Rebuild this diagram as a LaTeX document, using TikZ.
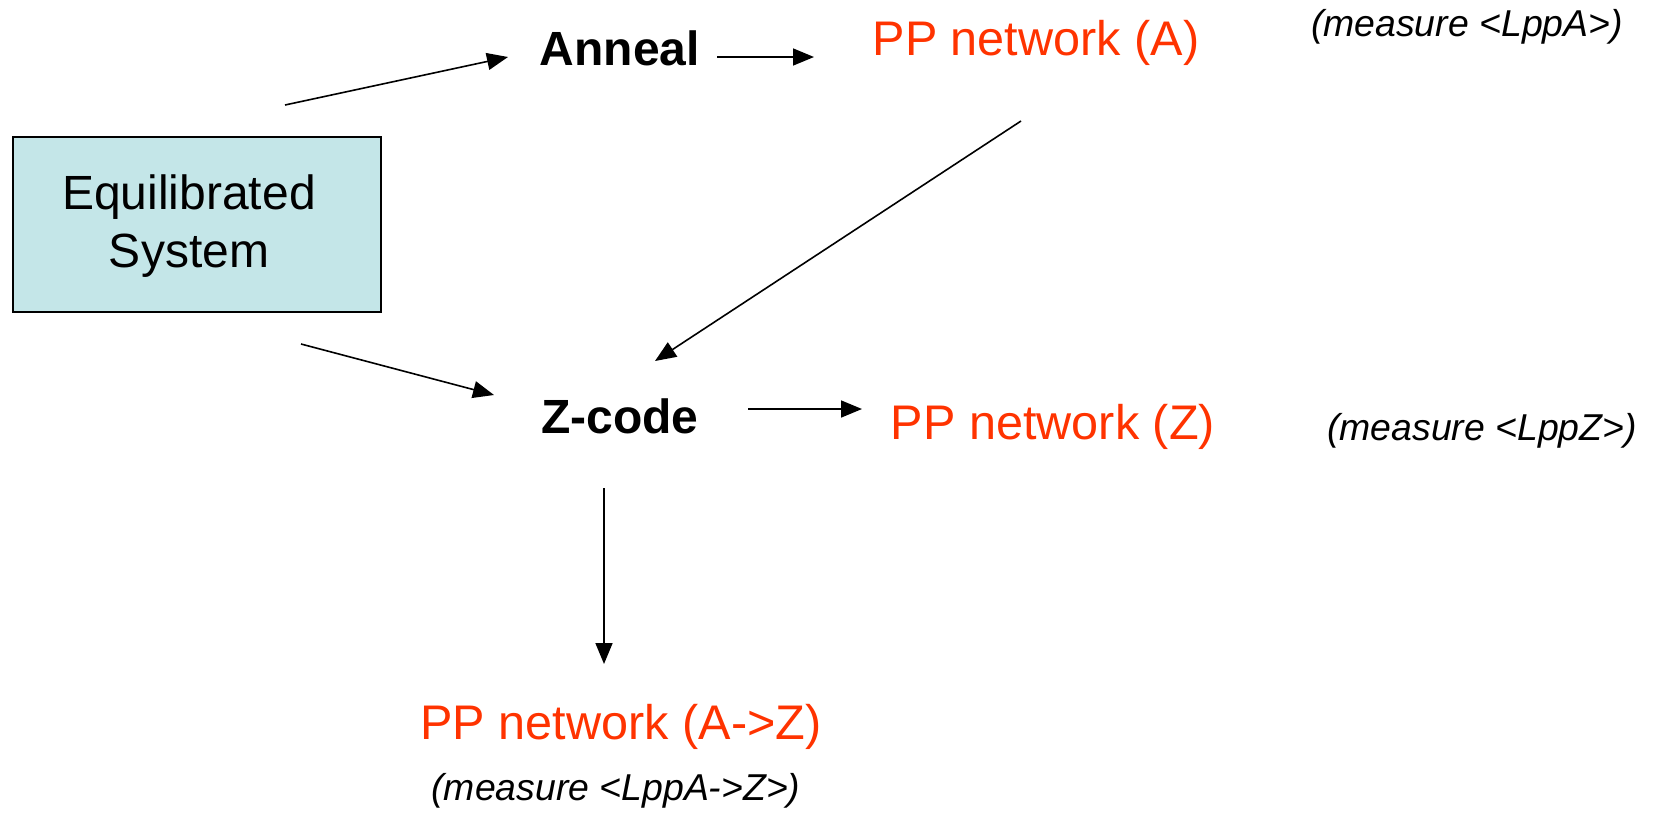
\documentclass[tikz,border=0pt]{standalone}
\usepackage{fontspec}
\setmainfont{Liberation Sans}
\usetikzlibrary{arrows.meta}
\definecolor{boxfill}{RGB}{196,230,232}
\definecolor{netred}{RGB}{255,51,0}
\tikzset{
  flow/.style={draw=black, line width=0.8pt, -{Triangle[length=10.5pt,width=8.5pt]}},
  stage/.style={anchor=base, inner sep=0pt, font=\fontsize{24}{28}\selectfont\bfseries},
  network/.style={anchor=base, inner sep=0pt, text=netred, font=\fontsize{24.3}{28}\selectfont},
  measure/.style={anchor=base, inner sep=0pt, font=\fontsize{18.7}{22}\selectfont\itshape},
  sysbox/.style={draw=black, line width=1pt, fill=boxfill}
}
\begin{document}
\begin{tikzpicture}[x=0.5pt, y=-0.5pt]
  \useasboundingbox (0,0) rectangle (1653,815);

  % starting system
  \draw[sysbox] (13,137) rectangle (381,312);
  \node[anchor=base, inner sep=0pt, align=center,
        font=\fontsize{24}{29}\selectfont] (sys) at (189,267)
        {Equilibrated\\System};

  % processing stages
  \node[stage] (anneal) at (620,65) {Anneal};
  \node[stage] (zcode) at (620,433) {Z-code};

  % resulting networks
  \node[network] (netA) at (1036,55) {PP network (A)};
  \node[network] (netZ) at (1053,439) {PP network (Z)};
  \node[network] (netAZ) at (621,739) {PP network (A->Z)};

  % measurements
  \node[measure] (mA) at (1467,36) {(measure <LppA>)};
  \node[measure] (mZ) at (1482,440) {(measure <LppZ>)};
  \node[measure] (mAZ) at (616,800) {(measure <LppA->Z>)};

  % connector end points
  \coordinate (sysA)   at (285,105);
  \coordinate (annIn)  at (508,57);
  \coordinate (annOut) at (717,57);
  \coordinate (netAIn) at (814,57);
  \coordinate (netAOut) at (1021,121);
  \coordinate (zIn1)   at (655,361);
  \coordinate (sysZ)   at (301,344);
  \coordinate (zIn2)   at (494,395);
  \coordinate (zOut)   at (748,409);
  \coordinate (netZIn) at (862,409);
  \coordinate (zDown)  at (604,488);
  \coordinate (netAZIn) at (604,664);

  \draw[flow] (sysA) -- (annIn);
  \draw[flow] (annOut) -- (netAIn);
  \draw[flow] (netAOut) -- (zIn1);
  \draw[flow] (sysZ) -- (zIn2);
  \draw[flow] (zOut) -- (netZIn);
  \draw[flow] (zDown) -- (netAZIn);
\end{tikzpicture}
\end{document}
